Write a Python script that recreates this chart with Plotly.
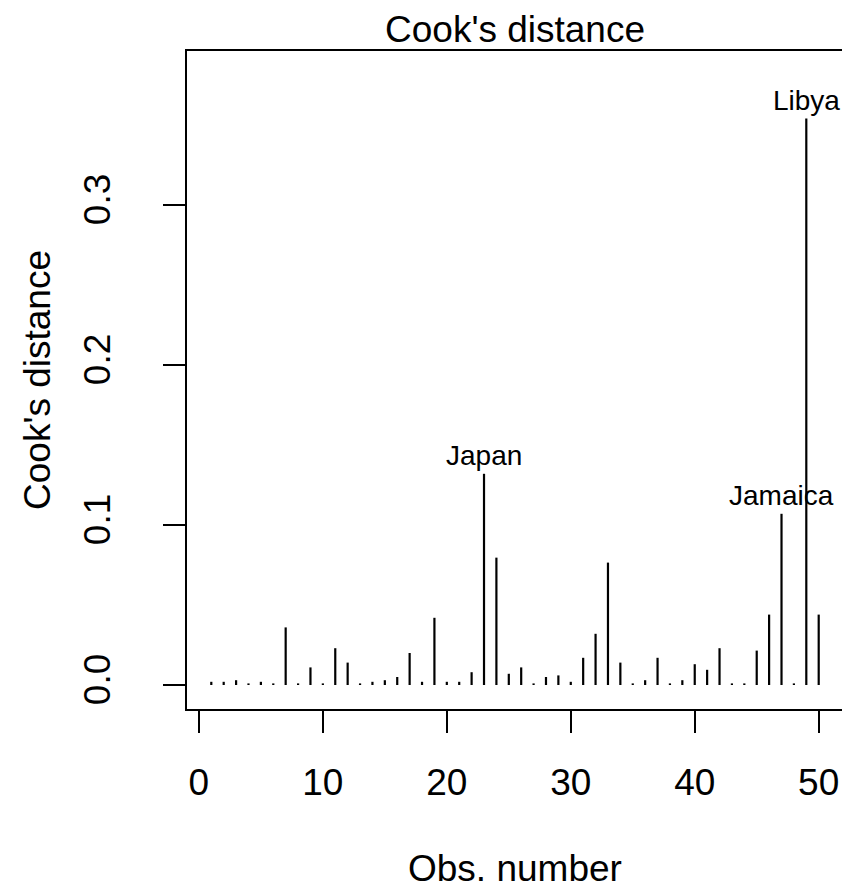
import plotly.graph_objects as go

# ---- data ----
obs = list(range(1, 51))
cooks = [0.002, 0.002, 0.003, 0.001, 0.002, 0.001, 0.036, 0.001, 0.011, 0.001,
         0.023, 0.014, 0.001, 0.002, 0.003, 0.005, 0.020, 0.002, 0.042, 0.002,
         0.002, 0.008, 0.132, 0.0796, 0.007, 0.011, 0.001, 0.005, 0.006, 0.002,
         0.017, 0.032, 0.0765, 0.014, 0.001, 0.003, 0.017, 0.001, 0.003, 0.013,
         0.0095, 0.023, 0.001, 0.001, 0.0215, 0.044, 0.107, 0.001, 0.354, 0.044]
label_names = ["Japan", "Jamaica", "Libya"]
label_obs = [23, 47, 49]
x_ticks = [0, 10, 20, 30, 40, 50]
y_ticks = [0.0, 0.1, 0.2, 0.3]
y_ticktext = ["0.0", "0.1", "0.2", "0.3"]

FONT = "Liberation Sans, Arial, Helvetica, sans-serif"
BASE = 37
LAB = 28

xs, ys = [], []
for o, v in zip(obs, cooks):
    xs += [o, o, None]
    ys += [0, v, None]

fig = go.Figure()
fig.add_trace(go.Scatter(x=xs, y=ys, mode="lines",
                         line=dict(color="black", width=2.2),
                         hoverinfo="skip", showlegend=False))

annotations = []
for name, o in zip(label_names, label_obs):
    annotations.append(dict(x=o, y=cooks[o - 1], xref="x", yref="y", text=name,
                            showarrow=False, yanchor="bottom", xanchor="center",
                            yshift=1, font=dict(family=FONT, size=LAB, color="black")))

annotations.append(dict(x=0.5, y=1, xref="paper", yref="paper", text="Cook's distance",
                        showarrow=False, yanchor="bottom", xanchor="center", yshift=-1,
                        font=dict(family=FONT, size=BASE, color="black")))
annotations.append(dict(x=0.5, y=0, xref="paper", yref="paper", text="Obs. number",
                        showarrow=False, yanchor="middle", xanchor="center", yshift=-159,
                        font=dict(family=FONT, size=BASE, color="black")))
annotations.append(dict(x=0, y=0.5, xref="paper", yref="paper", text="Cook's distance",
                        showarrow=False, yanchor="middle", xanchor="center", xshift=-150,
                        textangle=-90,
                        font=dict(family=FONT, size=BASE, color="black")))

fig.update_layout(
    width=842, height=891,
    margin=dict(l=187, r=0, t=51, b=182),
    paper_bgcolor="white", plot_bgcolor="white",
    annotations=annotations,
    xaxis=dict(range=[-0.96, 51.88], tickvals=x_ticks, ticks="outside", ticklen=22,
               tickwidth=2, tickcolor="black", showline=True, linecolor="black",
               linewidth=2, mirror=True, showgrid=False, zeroline=False,
               tickfont=dict(family=FONT, size=BASE, color="black"),
               ticklabelstandoff=18),
    yaxis=dict(range=[-0.015, 0.39625], tickvals=y_ticks, ticktext=y_ticktext,
               tickangle=-90, ticks="outside", ticklen=22, tickwidth=2,
               tickcolor="black", showline=True, linecolor="black", linewidth=2,
               showgrid=False, zeroline=False,
               tickfont=dict(family=FONT, size=BASE, color="black"),
               ticklabelstandoff=38),
)

fig.write_html("out.html")
